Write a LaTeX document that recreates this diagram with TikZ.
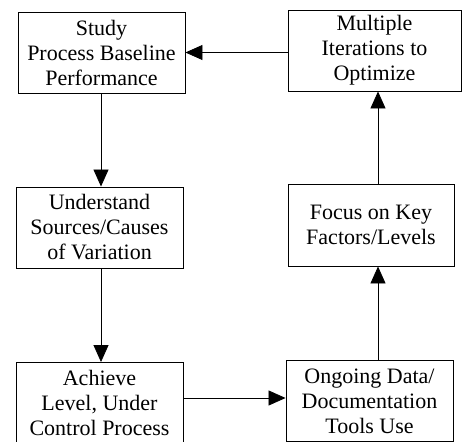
\documentclass[tikz,border=0pt]{standalone}
\usepackage{fontspec}
\setmainfont{Liberation Serif}
\usetikzlibrary{arrows.meta}
\begin{document}
\begin{tikzpicture}[x=1pt,y=1pt,
  stage/.style={draw=black, line width=0.9pt, align=center, inner sep=0pt,
    font=\fontsize{22}{25}\selectfont},
  flow/.style={draw=black, line width=0.8pt,
    -{Triangle[length=17pt,width=15pt]}}]
  \useasboundingbox (0,0) rectangle (462,441);
  \begin{scope}
    \clip (0,0) rectangle (462,441);
    \node[stage, minimum width=167pt, minimum height=81pt] (study) at (101.5,388.5)
      {Study\\Process Baseline\\Performance};
    \node[stage, minimum width=173pt, minimum height=81pt] (iter) at (374.5,390.5)
      {Multiple\\Iterations to\\Optimize};
    \node[stage, minimum width=167pt, minimum height=81pt] (under) at (99.5,213.5)
      {Understand\\Sources/Causes\\of Variation};
    \node[stage, minimum width=166pt, minimum height=82pt] (focus) at (371,216)
      {Focus on Key\\Factors/Levels};
    \node[stage, minimum width=167pt, minimum height=81pt] (achieve) at (99.5,38)
      {Achieve\\Level, Under\\Control Process};
    \node[stage, minimum width=167pt, minimum height=81pt] (ongoing) at (369.5,40)
      {Ongoing Data/\\Documentation\\Tools Use};
  \end{scope}
  \coordinate (lcolx) at (101,0);
  \coordinate (colx) at (378,0);
  \coordinate (rowy) at (0,43);
  \draw[flow] (iter.west |- study.east) -- (study.east);
  \draw[flow] (study.south -| lcolx) -- (under.north -| lcolx);
  \draw[flow] (under.south -| lcolx) -- (achieve.north -| lcolx);
  \draw[flow] (achieve.east |- rowy) -- (ongoing.west |- rowy);
  \draw[flow] (ongoing.north -| colx) -- (focus.south -| colx);
  \draw[flow] (focus.north -| colx) -- (iter.south -| colx);
\end{tikzpicture}
\end{document}
